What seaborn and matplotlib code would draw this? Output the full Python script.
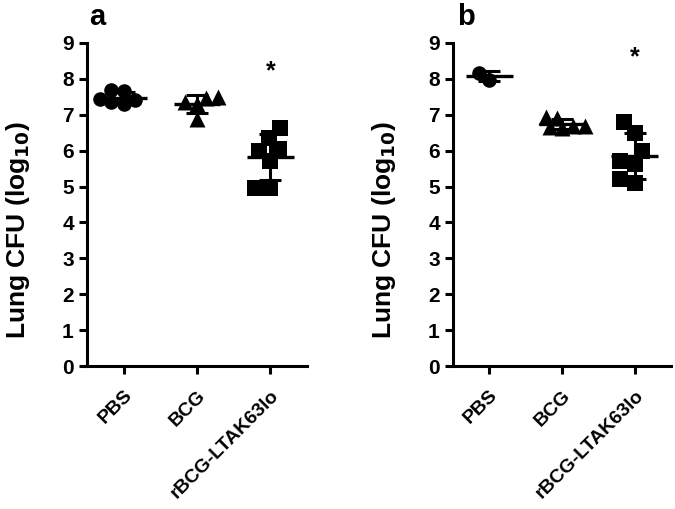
import matplotlib
matplotlib.use("Agg")
import matplotlib.pyplot as plt
import seaborn as sns
import pandas as pd

sns.set_style("ticks")
plt.rcParams['font.family'] = ['Liberation Sans', 'DejaVu Sans']
plt.rcParams['font.weight'] = 'bold'
plt.rcParams['text.color'] = 'black'
plt.rcParams['axes.labelcolor'] = 'black'
plt.rcParams['axes.edgecolor'] = 'black'
plt.rcParams['xtick.color'] = 'black'
plt.rcParams['ytick.color'] = 'black'

groups = ['PBS', 'BCG', 'rBCG-LTAK63lo']
markers = ['o', '^', 's']
marker_pt = [10.5, 11.5, 11.5]   # drawn marker size (points)
layout_pt = [8.5, 8.0, 10.5]     # marker size used for the swarm layout

# panel a values (log10 CFU)
a_pbs = [7.66, 7.68, 7.35, 7.30, 7.40, 7.45]
a_bcg = [7.50, 7.48, 7.35, 7.30, 6.88]
a_rbcg = [6.64, 6.36, 6.00, 6.05, 5.72, 4.97, 4.97]

# panel b values
b_pbs = [7.98, 8.17]
b_bcg = [6.95, 6.90, 6.70, 6.65, 6.62, 6.68]
b_rbcg = [6.80, 6.50, 6.00, 5.72, 5.64, 5.10, 5.20]

star_a = 8.2
star_b = 8.6

swarm_colls = []


def make_df(pbs, bcg, rbcg):
    rows = []
    for g, vals in zip(groups, [pbs, bcg, rbcg]):
        for v in vals:
            rows.append({'group': g, 'cfu': v})
    return pd.DataFrame(rows)


def draw_panel(ax, df, star_y):
    for g, m, ms, ls in zip(groups, markers, marker_pt, layout_pt):
        sub = df[df['group'] == g]
        n_before = len(ax.collections)
        # smaller markers for the swarm layout, enlarged later so they overlap
        sns.swarmplot(data=sub, x='group', y='cfu', order=groups, marker=m,
                      color='black', size=ls, ax=ax, warn_thresh=1)
        for coll in ax.collections[n_before:]:
            swarm_colls.append((coll, ms))
    stats = df.groupby('group')['cfu'].agg(['mean', 'std']).reindex(groups)
    xs = range(len(groups))
    ax.hlines(stats['mean'], [x - 0.32 for x in xs], [x + 0.32 for x in xs],
              color='black', linewidth=2.4, zorder=5)
    ax.errorbar(list(xs), stats['mean'], yerr=stats['std'], fmt='none',
                ecolor='black', elinewidth=2.2, capsize=8, capthick=2.2, zorder=5)
    ax.text(2, star_y, '*', ha='center', va='center', fontsize=18, fontweight='bold')

    ax.set_xlim(-0.5, 2.5)
    ax.set_ylim(0, 9)
    ax.set_yticks(range(10))
    ax.set_xlabel('')
    ax.set_ylabel('Lung CFU (log$_{\\mathbf{10}}$)', fontsize=19, fontweight='bold')
    ax.yaxis.set_label_coords(-0.25, 0.42)
    ax.tick_params(axis='both', width=2.2, length=6, labelsize=15)
    ax.tick_params(axis='x', labelsize=14, pad=9)
    ax.set_xticks(range(3))
    ax.set_xticklabels(groups, rotation=45, ha='right', rotation_mode='anchor', fontweight='bold')
    for lbl in ax.get_yticklabels():
        lbl.set_fontweight('bold')
    for s in ['left', 'bottom']:
        ax.spines[s].set_linewidth(2.2)
    sns.despine(ax=ax)


fig = plt.figure(figsize=(6.75, 5.09), dpi=100)
ax_a = fig.add_axes([87 / 675, 1 - 366 / 509, 220 / 675, 323 / 509])
ax_b = fig.add_axes([453 / 675, 1 - 366 / 509, 218 / 675, 323 / 509])

draw_panel(ax_a, make_df(a_pbs, a_bcg, a_rbcg), star_a)
draw_panel(ax_b, make_df(b_pbs, b_bcg, b_rbcg), star_b)

fig.text(97 / 675, 1 - 17 / 509, 'a', ha='center', va='center', fontsize=21, fontweight='bold')
fig.text(466 / 675, 1 - 17 / 509, 'b', ha='center', va='center', fontsize=21, fontweight='bold')

# run the swarm layout once, then freeze it and enlarge the markers
fig.canvas.draw()
for coll, ms in swarm_colls:
    if 'draw' in coll.__dict__:
        del coll.draw
    coll.set_sizes([ms ** 2])

plt.savefig('out.png', dpi=100)
